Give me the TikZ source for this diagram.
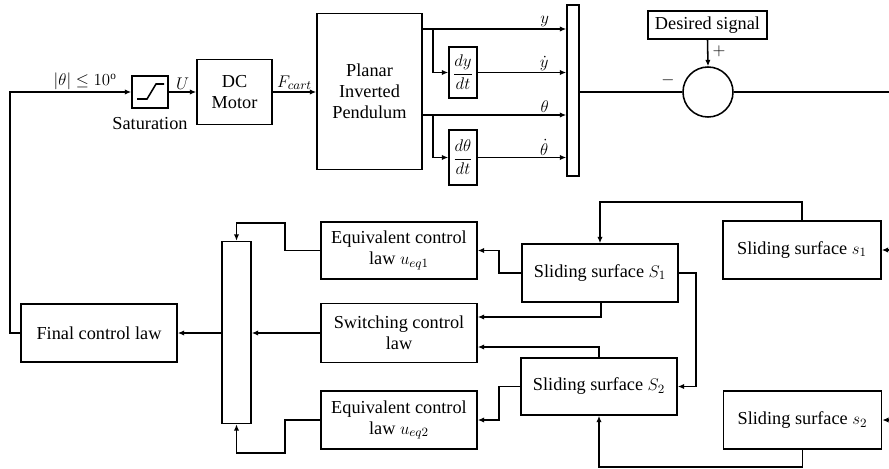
\documentclass[tikz,border=0pt]{standalone}
\usepackage{fontspec}
\usepackage{amsmath}
\setmainfont{Liberation Serif}
\usetikzlibrary{arrows.meta, positioning, calc}

\begin{document}
\begin{tikzpicture}[x=0.025cm, y=-0.025cm, >={Latex[length=4.5pt,width=3.8pt]}, line width=1.1pt,
  font=\fontsize{13}{15}\selectfont,
  blok/.style={draw, rectangle, align=center, inner sep=2pt},
  lawbox/.style={blok, minimum width=3.9cm, minimum height=1.45cm},
  muxbar/.style={draw, rectangle, inner sep=0pt},
  lbl/.style={inner sep=1pt}]
  \useasboundingbox (0,0) rectangle (889,468);

  % Horni vetev - soustava
  \node[blok, minimum width=0.9cm, minimum height=0.8cm] (sat) at (150,92) {};
  \draw[line width=1.1pt] ([shift={(-13,7)}]sat.center) -- ++(10,0) -- ++(9,-15) -- ++(8,0);
  \node[lbl] at (150,124) {Saturation};
  \node[blok, minimum width=1.875cm, minimum height=1.625cm] (motor) at (234.5,92) {DC\\Motor};
  \node[blok, minimum width=2.625cm, minimum height=3.9cm] (pend) at (369.5,91.5) {Planar\\Inverted\\Pendulum};
  \node[blok, minimum width=0.7cm, minimum height=1.275cm, inner sep=0pt] (dy) at (463,72.5) {\large$\dfrac{dy}{dt}$};
  \node[blok, minimum width=0.7cm, minimum height=1.375cm, inner sep=0pt] (dth) at (463,157.5) {\large$\dfrac{d\theta}{dt}$};
  \node[muxbar, minimum width=0.3cm, minimum height=4.275cm] (mux1) at (573,90.5) {};
  \node[draw, circle, minimum size=1.25cm, inner sep=0pt] (sum) at (708,92) {};
  \node[blok, minimum width=2.975cm, minimum height=0.7cm] (des) at (707.5,25) {Desired signal};

  \coordinate (fb) at (10,92);
  \coordinate (ty) at (422,29);
  \coordinate (by) at (433,29);
  \coordinate (tt) at (422,115);
  \coordinate (bt) at (433,115);
  \coordinate (out) at (889,92);

  \draw[->] (sat.east) -- (motor.west) node[midway, above, lbl] {$U$};
  \draw[->] (motor.east) -- (motor.east -| pend.west) node[midway, above, lbl] {$F_{cart}$};
  \draw[->] (ty) -- (ty -| mux1.west) node[pos=0.85, above, lbl] {$y$};
  \draw[->] (by) |- (dy.west);
  \draw[->] (dy.east) -- (dy.east -| mux1.west) node[pos=0.75, above, lbl] {$\dot{y}$};
  \draw[->] (tt) -- (tt -| mux1.west) node[pos=0.85, above, lbl] {$\theta$};
  \draw[->] (bt) |- (dth.west);
  \draw[->] (dth.east) -- (dth.east -| mux1.west) node[pos=0.75, above, lbl] {$\dot{\theta}$};
  \draw (sum.west -| mux1.east) -- (sum.west);
  \draw[->] (des.south) -- (sum.north) node[pos=0.45, right=2pt, lbl] {$+$};
  \node[lbl] at (668,80) {$-$};
  \draw (sum.east) -- (out);

  % Dolni vetev - regulator
  \node[lawbox] (final) at (99,333) {Final control law};
  \node[muxbar, minimum width=0.725cm, minimum height=4.55cm] (mux2) at (236.5,332.5) {};
  \node[lawbox, minimum height=1.425cm] (eq1) at (399,250.5) {Equivalent control\\law $u_{eq1}$};
  \node[lawbox, minimum height=1.475cm] (sw) at (399,333) {Switching control\\law};
  \node[lawbox] (eq2) at (399,420) {Equivalent control\\law $u_{eq2}$};
  \node[lawbox] (S1) at (600,273) {Sliding surface $S_1$};
  \node[lawbox, minimum height=1.425cm] (S2) at (599,386.5) {Sliding surface $S_2$};
  \node[lawbox, minimum width=3.95cm] (s1) at (802,250) {Sliding surface $s_1$};
  \node[lawbox, minimum width=3.95cm] (s2) at (802.5,420) {Sliding surface $s_2$};

  \coordinate (j1) at (285,223);
  \coordinate (j2) at (285,453);
  \coordinate (in1) at (889,250);
  \coordinate (in2) at (889,420);

  \draw[->] (final.west) -| (fb) -- (sat.west) node[pos=0.62, above, lbl] {\large$|\theta|\leq 10^{\mathrm{o}}$};
  \draw[->] (mux2.west |- final.east) -- (final.east);
  \draw[->] (sw.west) -- (sw.west -| mux2.east);
  \draw[->] (eq1.west) -| (j1) -| (mux2.north);
  \draw[->] (eq2.west) -| (j2) -| (mux2.south);
  \draw[->] (S1.west) -- ++(-22,0) |- (eq1.east);
  \draw[->] ([xshift=0.025cm]S1.south) |- ([yshift=0.4cm]sw.east);
  \draw[->] (S2.north) |- ([yshift=-0.35cm]sw.east);
  \draw[->] (S2.west) -- ++(-21,0) |- (eq2.east);
  \draw[->] (S1.east) -- ++(17,0) |- (S2.east);
  \draw[->] (s1.north) -- ++(0,-18) -| (S1.north);
  \draw[->] (s2.south) -- ++(0,17) -| (S2.south);
  \draw[->] (in1) -- (s1.east);
  \draw[->] (in2) -- (s2.east);
\end{tikzpicture}
\end{document}
